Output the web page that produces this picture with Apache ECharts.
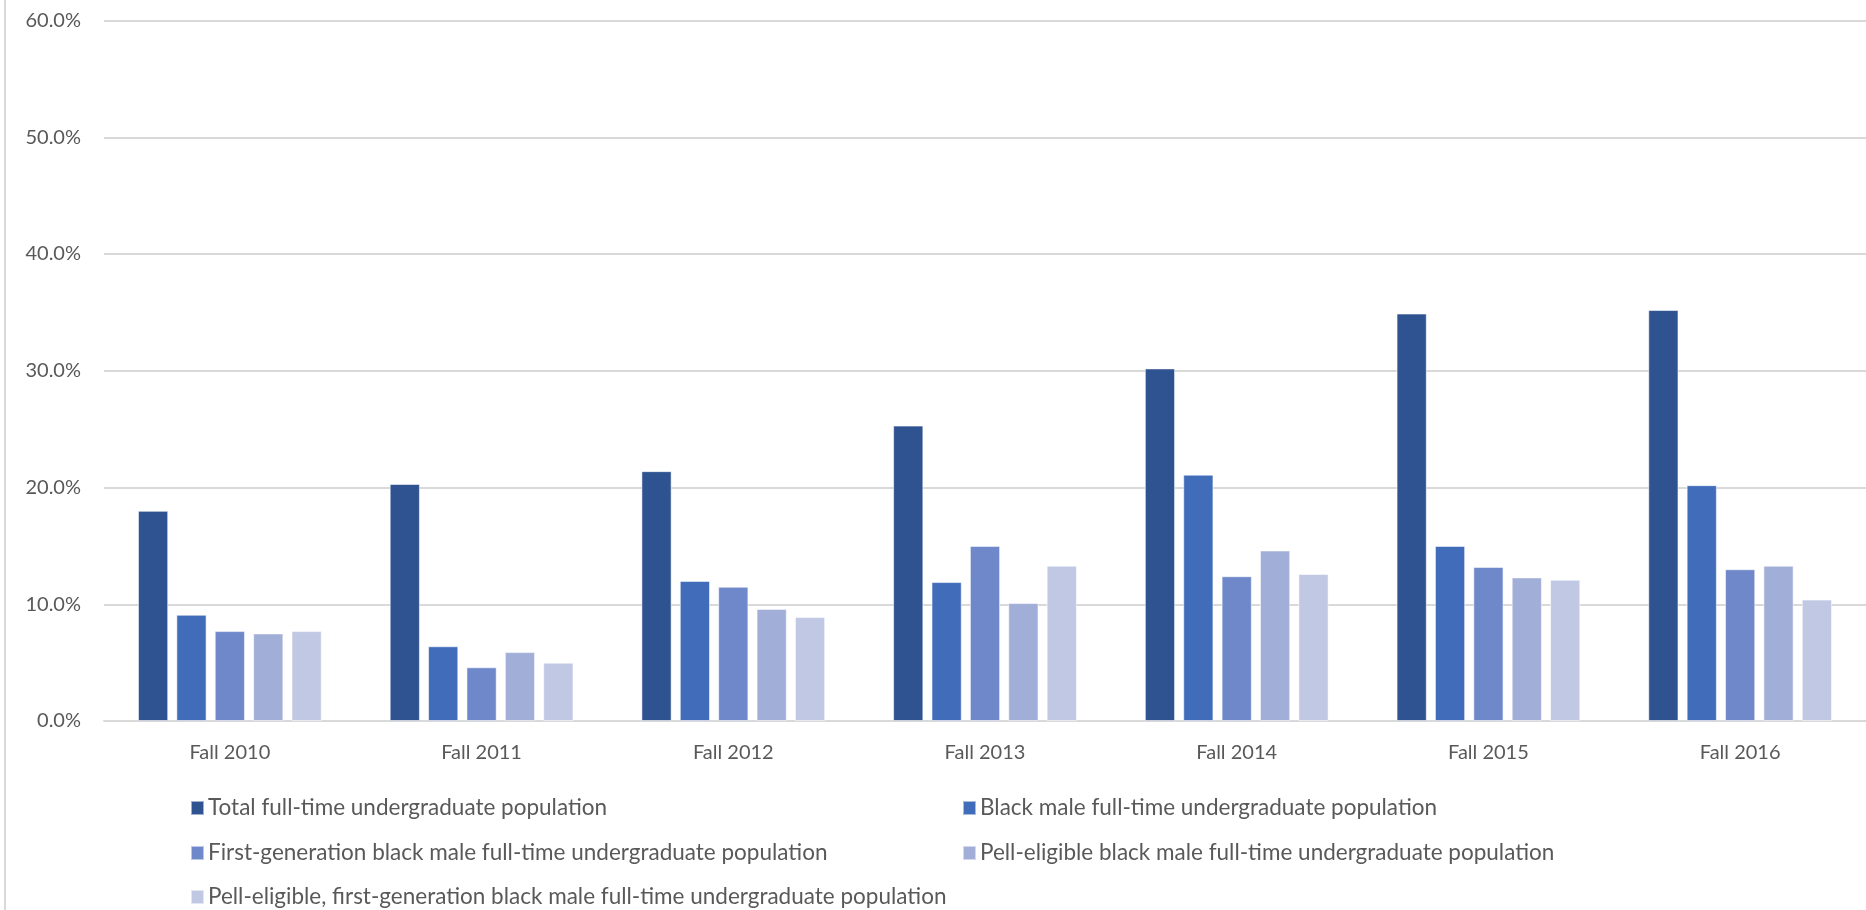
<!DOCTYPE html>
<html>
<head>
<meta charset="utf-8">
<title>Full-time undergraduate population, Fall 2010–2016</title>
<script src="https://cdn.jsdelivr.net/npm/echarts@6/dist/echarts.min.js"></script>
<style>
  html, body { margin: 0; padding: 0; background: #ffffff; }
  #chart { width: 1866px; height: 910px; }
</style>
</head>
<body>
<div id="chart"></div>
<script>
// Terms on the category axis
const categories = ['Fall 2010', 'Fall 2011', 'Fall 2012', 'Fall 2013', 'Fall 2014', 'Fall 2015', 'Fall 2016'];

// Series names
const seriesNames = [
  'Total full-time undergraduate population',
  'Black male full-time undergraduate population',
  'First-generation black male full-time undergraduate population',
  'Pell-eligible black male full-time undergraduate population',
  'Pell-eligible, first-generation black male full-time undergraduate population'
];

// Percent values per series, one per term
const totalPop        = [18.0, 20.3, 21.4, 25.3, 30.2, 34.9, 35.2];
const blackMale       = [9.1, 6.4, 12.0, 11.9, 21.1, 15.0, 20.2];
const firstGenBM      = [7.7, 4.6, 11.5, 15.0, 12.4, 13.2, 13.0];
const pellBM          = [7.5, 5.9, 9.6, 10.1, 14.6, 12.3, 13.3];
const pellFirstGenBM  = [7.7, 5.0, 8.9, 13.3, 12.6, 12.1, 10.4];

// Value axis ticks
const yMin = 0, yMax = 60, yStep = 10;

const seriesValues = [totalPop, blackMale, firstGenBM, pellBM, pellFirstGenBM];
const colors = ['#2F5290', '#416CBA', '#6E88C9', '#A0AED8', '#C0C8E4'];

const FONT = 'Lato, "Open Sans", sans-serif';
const TEXT_COLOR = '#595959';
const GRID_COLOR = '#D9D9D9';

// Legend: two columns, three rows
const legendSlots = [
  { left: 190, top: 795 },
  { left: 962, top: 795 },
  { left: 190, top: 840 },
  { left: 962, top: 840 },
  { left: 190, top: 884 }
];

const chart = echarts.init(document.getElementById('chart'), null, { renderer: 'canvas' });

chart.setOption({
  backgroundColor: '#ffffff',
  animation: false,
  color: colors,
  textStyle: { fontFamily: FONT },
  grid: { left: 104, right: 0, top: 20.5, bottom: 189, containLabel: false },
  graphic: [{
    type: 'rect',
    shape: { x: 4, y: 0, width: 2, height: 910 },
    style: { fill: GRID_COLOR },
    silent: true
  }],
  xAxis: {
    type: 'category',
    data: categories,
    axisLine: { show: true, lineStyle: { color: GRID_COLOR, width: 2 } },
    axisTick: { show: false },
    axisLabel: { color: TEXT_COLOR, fontSize: 20, fontFamily: FONT, margin: 22 }
  },
  yAxis: {
    type: 'value',
    min: yMin,
    max: yMax,
    interval: yStep,
    axisLine: { show: false },
    axisTick: { show: false },
    splitLine: { lineStyle: { color: GRID_COLOR, width: 2 } },
    axisLabel: {
      color: TEXT_COLOR, fontSize: 20, fontFamily: FONT, margin: 23,
      formatter: v => v.toFixed(1) + '%'
    }
  },
  legend: legendSlots.map((slot, i) => ({
    data: [seriesNames[i]],
    left: slot.left,
    top: slot.top,
    padding: 0,
    itemWidth: 13,
    itemHeight: 14,
    itemGap: 0,
    selectedMode: false,
    icon: 'rect',
    textStyle: { color: TEXT_COLOR, fontSize: 22.5, fontFamily: FONT, padding: [0, 0, 0, -1], lineHeight: 26 }
  })),
  series: seriesNames.map((name, i) => ({
    name: name,
    type: 'bar',
    data: seriesValues[i],
    barGap: '27%',
    barCategoryGap: '27%',
    itemStyle: { color: colors[i], borderColor: 'rgba(255,255,255,0.55)', borderWidth: 1 }
  }))
});
</script>
</body>
</html>
